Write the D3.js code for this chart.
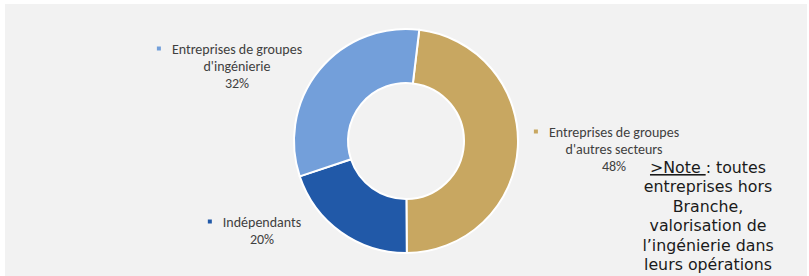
<!DOCTYPE html>
<html>
<head>
<meta charset="utf-8">
<script src="https://cdn.jsdelivr.net/npm/d3@7"></script>
<style>
  html, body { margin: 0; padding: 0; background: #ffffff; }
  svg { display: block; }
</style>
</head>
<body>
<svg id="chart" width="809" height="276"></svg>
<script>
// ---- data ----
const categories = ["Entreprises de groupes d'autres secteurs", "Indépendants", "Entreprises de groupes d'ingénierie"];
const labelLines = [
  ["Entreprises de groupes", "d'autres secteurs"],
  ["Indépendants"],
  ["Entreprises de groupes", "d'ingénierie"]
];
const values = [48, 20, 32];
const valueLabels = ["48%", "20%", "32%"];
const colors = ["#C8A761", "#2159A8", "#739FDA"];
const noteLines = [">Note : toutes", "entreprises hors", "Branche,", "valorisation de", "l’ingénierie dans", "leurs opérations"];

// ---- layout ----
const W = 809, H = 276;
const cx = 406, cy = 141, rOuter = 112, rInner = 58;
const startDeg = 6.8;
const labelPos = [ {x: 614, y: 137}, {x: 262, y: 227}, {x: 237, y: 54} ];
const lineH = 16.8;

const svg = d3.select("#chart");
svg.append("rect").attr("x", 5).attr("y", 4).attr("width", 802).attr("height", H - 4).attr("fill", "#F2F2F2");

const data = categories.map((c, i) => ({cat: c, value: values[i], i}));
const start = startDeg * Math.PI / 180;
const pie = d3.pie().value(d => d.value).sort(null).startAngle(start).endAngle(start + 2 * Math.PI);
const arc = d3.arc().innerRadius(rInner).outerRadius(rOuter);

const g = svg.append("g").attr("transform", `translate(${cx},${cy})`);
g.selectAll("path").data(pie(data)).join("path")
  .attr("d", arc)
  .attr("fill", d => colors[d.data.i])
  .attr("stroke", "#FFFFFF")
  .attr("stroke-width", 2);

// ---- labels ----
const font = "Carlito, Calibri, Lato, sans-serif";
data.forEach((d, i) => {
  const p = labelPos[i];
  const lines = labelLines[i].concat([valueLabels[i]]);
  const t = svg.append("text")
    .attr("font-family", font)
    .attr("font-size", 14)
    .attr("fill", "#404040")
    .attr("text-anchor", "middle");
  lines.forEach((ln, k) => {
    t.append("tspan").attr("x", p.x).attr("y", p.y + k * lineH).text(ln);
  });
  // bullet square next to first line
  const first = t.select("tspan").node();
  const w = first.getComputedTextLength();
  svg.append("rect")
    .attr("x", p.x - w / 2 - 15)
    .attr("y", p.y - 7.5)
    .attr("width", 4).attr("height", 4)
    .attr("fill", colors[i]);
});

// ---- note ----
const note = svg.append("text")
  .attr("font-family", "'DejaVu Sans', Verdana, sans-serif")
  .attr("font-size", 15.8)
  .attr("fill", "#1A1A1A")
  .attr("text-anchor", "middle");
noteLines.forEach((ln, k) => {
  const y = 173 + k * 19.4;
  if (k === 0) {
    const ts = note.append("tspan").attr("x", 708).attr("y", y);
    ts.append("tspan").attr("text-decoration", "underline").text(">Note ");
    ts.append("tspan").text(": toutes");
  } else {
    note.append("tspan").attr("x", 708).attr("y", y).text(ln);
  }
});
</script>
</body>
</html>
